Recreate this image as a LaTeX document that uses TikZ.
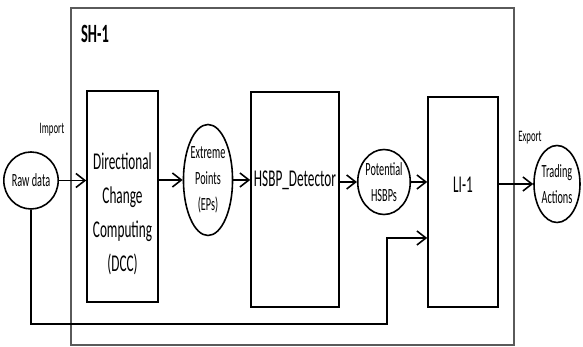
\documentclass[tikz,border=0pt]{standalone}
\usepackage{fontspec}
\setmainfont[FakeStretch=0.55]{Carlito}
\usepackage{tikz}
\usetikzlibrary{shapes.geometric, arrows.meta, positioning, calc}
\definecolor{framegray}{RGB}{90,90,90}

\begin{document}
\begin{tikzpicture}[
    block/.style={rectangle, draw, line width=0.9pt, inner sep=0pt},
    bigtext/.style={align=center, font=\fontsize{13.7}{19.3}\selectfont},
    blob/.style={ellipse, draw, line width=0.9pt, inner sep=0pt, align=center, font=\fontsize{10.6}{14.7}\selectfont},
    tag/.style={font=\fontsize{9.1}{11}\selectfont},
    arrow/.style={-{Straight Barb[length=1.8mm,width=2.8mm]}, line width=0.9pt}
]
\useasboundingbox (0,0) rectangle (11.66,6.94);

% SH-1 frame
\node[rectangle, draw=framegray, line width=0.6pt, minimum width=8.86cm, minimum height=6.74cm] (sh) at (5.85,3.41) {};
\node[font=\fontsize{15}{18}\selectfont\bfseries] (shlabel) at (1.9,6.26) {SH-1};

% blocks
\node[block, minimum width=1.42cm, minimum height=4.22cm] (dcc) at (2.45,3.01) {};
\node[bigtext] (dcctext) at (2.45,2.66) {Directional\\Change\\Computing\\(DCC)};
\node[block, minimum width=1.76cm, minimum height=4.3cm] (hsbp) at (5.9,2.95) {};
\node[bigtext] (hsbptext) at (5.9,3.34) {HSBP\_Detector};
\node[block, minimum width=1.4cm, minimum height=4.2cm] (li) at (9.26,2.9) {};
\node[bigtext] (litext) at (9.26,3.24) {LI-1};

% data
\node[blob, minimum width=0.96cm, minimum height=1.14cm] (raw) at (0.62,3.33) {Raw data};
\node[blob, minimum width=0.96cm, minimum height=2.22cm] (ep) at (4.16,3.34) {Extreme\\Points\\(EPs)};
\node[blob, minimum width=1.02cm, minimum height=1.3cm] (pot) at (7.68,3.30) {Potential\\HSBPs};
\node[blob, minimum width=0.92cm, minimum height=1.54cm] (trade) at (11.14,3.26) {Trading\\Actions};

\node[tag] (import) at (1.04,4.34) {Import};
\node[tag] (export) at (10.6,4.18) {Export};

\draw[arrow] (raw) -- (raw -| dcc.west);
\draw[arrow] (dcc.east |- ep) -- (ep);
\draw[arrow] (ep) -- (ep -| hsbp.west);
\draw[arrow] (hsbp.east |- pot) -- (pot);
\draw[arrow] (pot) -- (pot -| li.west);
\draw[arrow] (li.east |- trade) -- (trade);

% raw data straight to LI-1
\coordinate (fb) at (7.74,0.46);
\coordinate (fbin) at ($(li.west)+(0,-0.72)$);
\draw[arrow] (raw.south) |- (fb) |- (fbin);
\end{tikzpicture}
\end{document}
